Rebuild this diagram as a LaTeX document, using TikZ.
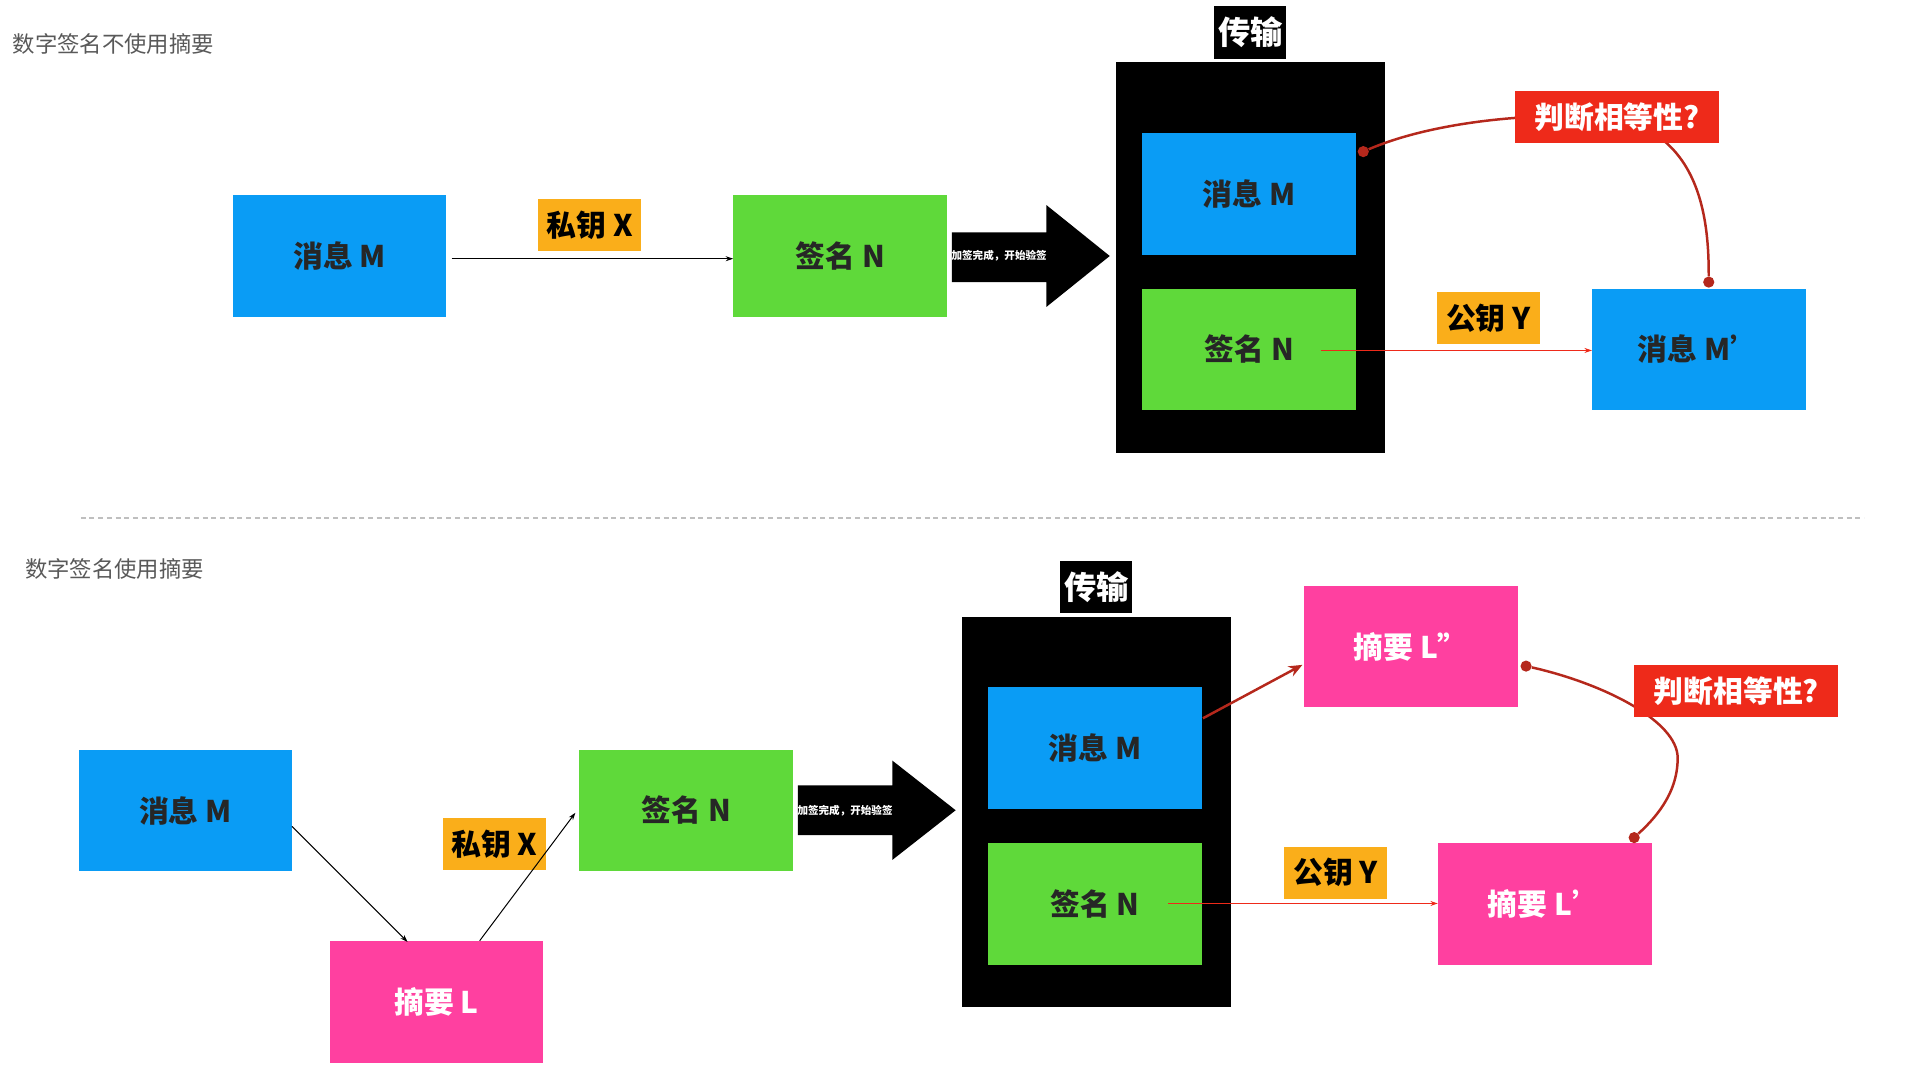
\documentclass[tikz,border=0pt]{standalone}
\usepackage{fontspec}
\setmainfont{Noto Sans CJK SC}
\usetikzlibrary{arrows.meta}
\definecolor{cblue}{HTML}{0A9CF5}
\definecolor{cgreen}{HTML}{5FD93A}
\definecolor{cpink}{HTML}{FF40A0}
\definecolor{corange}{HTML}{FAAE1A}
\definecolor{cred}{HTML}{EE2A1A}
\definecolor{cdred}{HTML}{B5281C}
\begin{document}
\begin{tikzpicture}[x=1pt,y=-1pt,
 box/.style={anchor=north west,minimum width=172pt,minimum height=98pt,inner sep=0pt,font=\bfseries\fontsize{24}{24}\selectfont},
 blue/.style={box,fill=cblue,text=black!85},
 green/.style={box,fill=cgreen,text=black!85},
 pink/.style={box,fill=cpink,text=white},
 lab/.style={anchor=north west,minimum width=83pt,minimum height=42pt,inner sep=0pt,fill=corange,font=\bfseries\fontsize{24}{24}\selectfont},
 judge/.style={anchor=north west,minimum width=164pt,minimum height=42pt,inner sep=0pt,fill=cred,text=white,font=\bfseries\fontsize{24}{24}\selectfont},
 trans/.style={anchor=north west,minimum width=58pt,minimum height=42pt,inner sep=0pt,fill=black,text=white,font=\bfseries\fontsize{26}{26}\selectfont},
 title/.style={anchor=west,text=black!65,font=\fontsize{18}{18}\selectfont,inner sep=0pt},
 thin/.style={-{Stealth[length=6pt,width=4pt]},line width=0.8pt},
 rthin/.style={thin,draw=cred},
 curve/.style={draw=cdred,line width=2pt},
 dot/.style={circle,fill=cdred,inner sep=0pt,minimum size=9pt},
 bigarrow/.style={fill=black}
]
\path[use as bounding box] (0,0) rectangle (1545,869);
% ---------- top ----------
\node[title] (t1) at (10,35) {数字签名不使用摘要};
\node[blue] (m1) at (187,157) {消息 M};
\node[green] (n1) at (590,157) {签名 N};
\node[lab] (x1) at (433,160) {私钥 X};
\draw[thin] (m1.east)++(4,2) coordinate (a1) -- (n1.west|-a1);
\node[draw=none] (ba1) at (824,206) {};
\fill[bigarrow] (766,187) -- (842,187) -- (842,165) -- (893,206) -- (842,247) -- (842,227) -- (766,227) -- cycle;
\node[text=white,font=\bfseries\fontsize{8.5}{9}\selectfont] at (804,206) {加签完成，开始验签};
\node[anchor=north west,fill=black,minimum width=216pt,minimum height=314pt,inner sep=0pt] (bb1) at (898,50) {};
\node[trans] (tr1) at (977,5) {传输};
\node[blue] (im1) at (919,107) {消息 M};
\node[green] (in1) at (919,232) {签名 N};
\node[blue] (mp1) at (1281,232) {消息 M’};
\node[lab] (y1) at (1156,235) {公钥 Y};
\coordinate (s1) at (1063,282);
\draw[rthin] (s1) -- (mp1.west|-s1);
\node[dot] (d1) at (1097,122) {};
\node[dot] (d2) at (1375,227) {};
\draw[curve] (d1) .. controls (1160,95) and (1250,90) .. (1300,95) .. controls (1370,110) and (1375,180) .. (d2);
\node[judge] (j1) at (1219,73) {判断相等性?};
% ---------- separator ----------
\draw[black!25,line width=1.2pt,dash pattern=on 4pt off 3pt] (65,417) coordinate (sepa) -- (1500,417) coordinate (sepb);
% ---------- bottom ----------
\node[title] (t2) at (20,458) {数字签名使用摘要};
\node[blue] (m2) at (63,603) {消息 M};
\node[pink] (l2) at (265,757) {摘要 L};
\node[green] (n2) at (466,603) {签名 N};
\node[lab] (x2) at (356,658) {私钥 X};
\coordinate (e1) at (235,665);
\coordinate (e2) at (328,758);
\coordinate (e3) at (386,757);
\coordinate (e4) at (463,654);
\draw[thin] (e1) -- (e2);
\draw[thin] (e3) -- (e4);
\fill[bigarrow] (642,632) -- (718,632) -- (718,612) -- (769,652) -- (718,692) -- (718,672) -- (642,672) -- cycle;
\node[text=white,font=\bfseries\fontsize{8.5}{9}\selectfont] at (680,652) {加签完成，开始验签};
\node[anchor=north west,fill=black,minimum width=216pt,minimum height=314pt,inner sep=0pt] (bb2) at (774,496) {};
\node[trans] (tr2) at (853,451) {传输};
\node[blue] (im2) at (795,553) {消息 M};
\node[green] (in2) at (795,678) {签名 N};
\node[pink] (lpp) at (1049,471) {摘要 L”};
\node[pink] (lp) at (1157,678) {摘要 L’};
\node[lab] (y2) at (1033,681) {公钥 Y};
\coordinate (f1) at (968,578);
\draw[draw=cdred,line width=2pt,-{Stealth[length=11pt,width=9pt]}] (f1) -- (1048,535);
\coordinate (s2) at (940,727);
\draw[rthin] (s2) -- (lp.west|-s2);
\node[dot] (d3) at (1228,536) {};
\node[dot] (d4) at (1315,674) {};
\draw[curve] (d3) .. controls (1290,550) and (1350,580) .. (1350,610) .. controls (1350,640) and (1330,660) .. (d4);
\node[judge] (j2) at (1315,535) {判断相等性?};
\end{tikzpicture}
\end{document}
